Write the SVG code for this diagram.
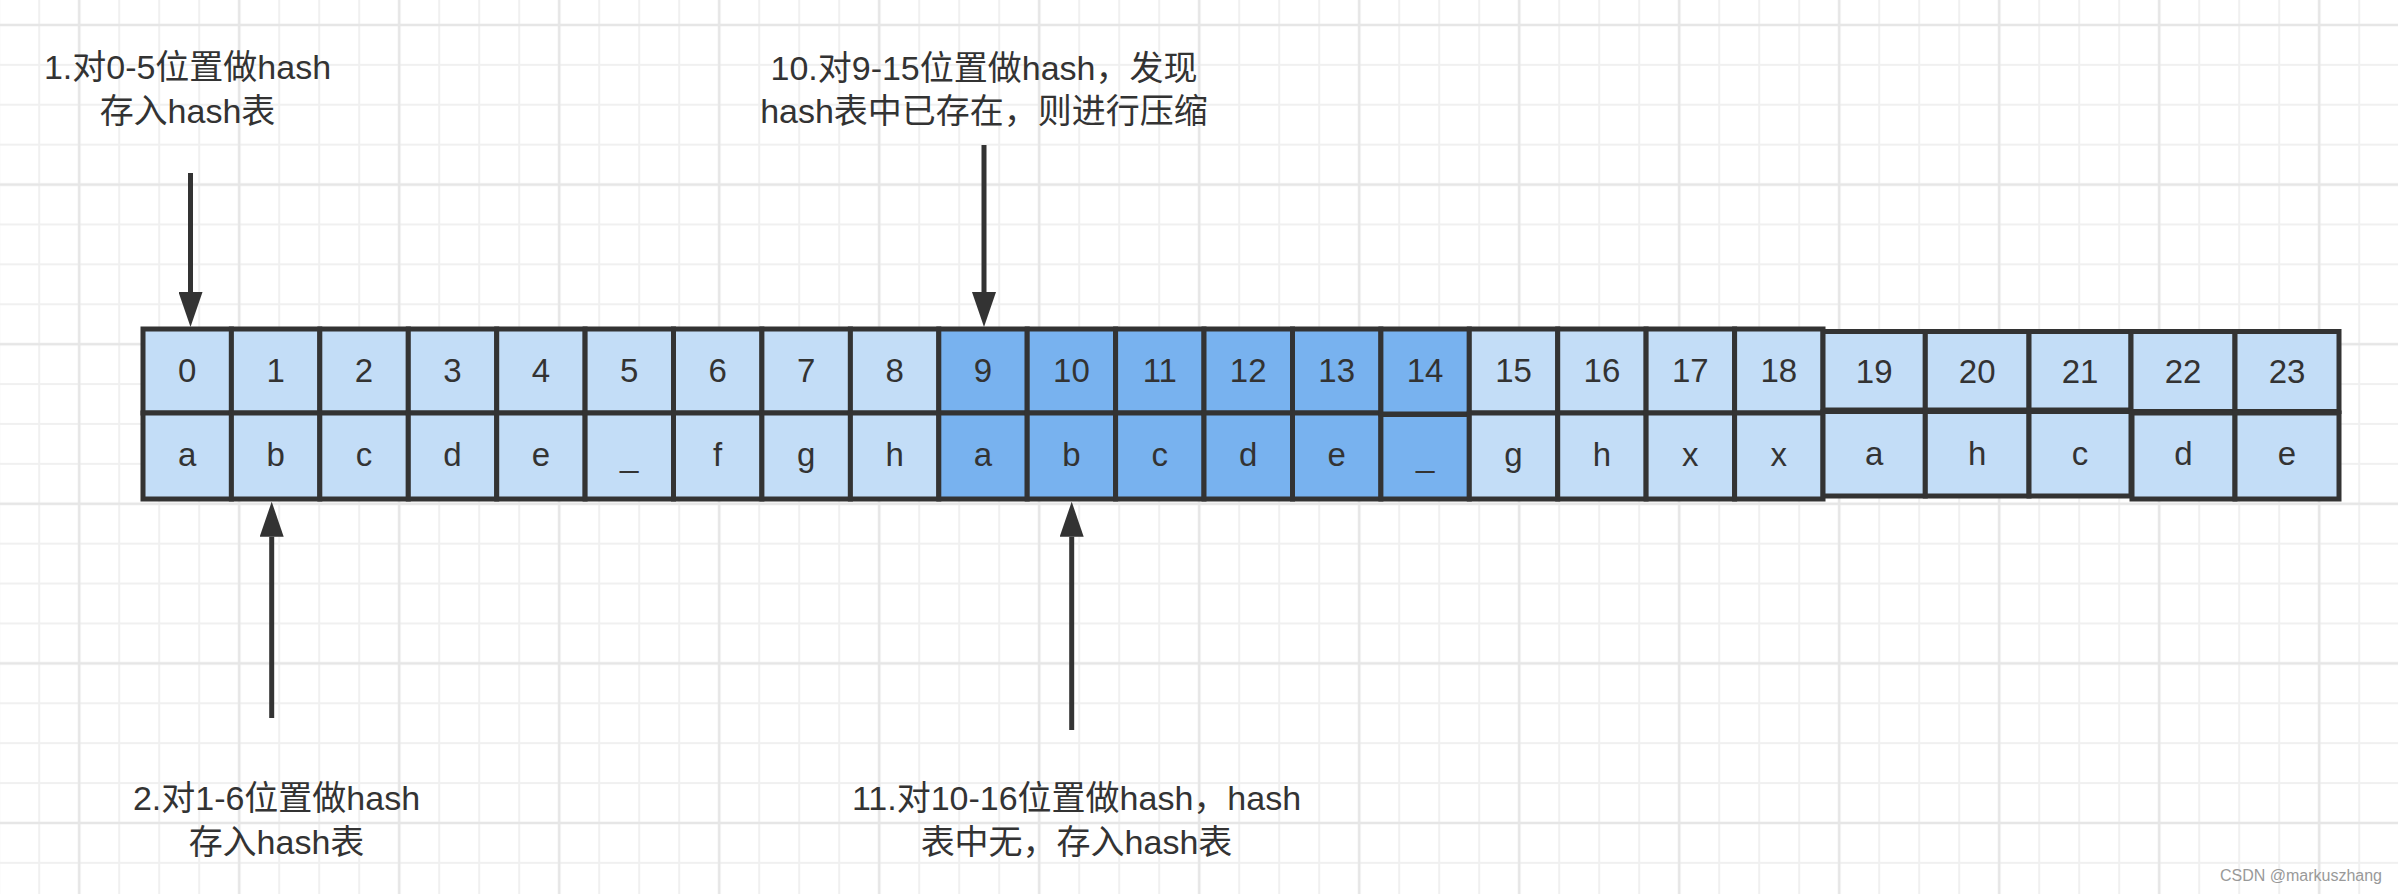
<svg xmlns="http://www.w3.org/2000/svg" width="2398" height="894" viewBox="0 0 2398 894">
<style>
.lt{fill:#c3ddf7;stroke:#333;stroke-width:5}
.dk{fill:#78b2ef;stroke:#333;stroke-width:5}
.ct{font-family:"Liberation Sans",Arial,sans-serif;font-size:33px;fill:#333;text-anchor:middle}
.lb{font-family:"Liberation Sans","Noto Sans CJK SC",sans-serif;font-size:34px;fill:#333;text-anchor:middle}
.arr{stroke:#333;stroke-width:5;fill:none;marker-end:url(#head)}
</style>
<defs>
<pattern id="minor" x="19.2" y="5" width="40" height="39.9" patternUnits="userSpaceOnUse">
<path d="M20,0V39.9M0,20H40" stroke="#f0f0f0" stroke-width="2" fill="none"/>
</pattern>
<pattern id="major" x="-0.8" y="-54.8" width="160" height="159.6" patternUnits="userSpaceOnUse">
<path d="M80,0V159.6M0,79.8H160" stroke="#e6e6e6" stroke-width="2.5" fill="none"/>
</pattern>
<marker id="head" viewBox="0 0 35 24" refX="0" refY="12" markerWidth="35" markerHeight="24" markerUnits="userSpaceOnUse" orient="auto">
<path d="M0,0L35,12L0,24Z" fill="#333"/>
</marker>
</defs>
<rect width="2398" height="894" fill="#fff"/>
<rect width="2398" height="894" fill="url(#minor)"/>
<rect width="2398" height="894" fill="url(#major)"/>

<g id="cell-0"><rect class="lt" x="143" y="329" width="88.4" height="84"/><rect class="lt" x="143" y="413" width="88.4" height="86"/><text class="ct" x="187.2" y="382">0</text><text class="ct" x="187.2" y="465.5">a</text></g>
<g id="cell-1"><rect class="lt" x="231.4" y="329" width="88.4" height="84"/><rect class="lt" x="231.4" y="413" width="88.4" height="86"/><text class="ct" x="275.6" y="382">1</text><text class="ct" x="275.6" y="465.5">b</text></g>
<g id="cell-2"><rect class="lt" x="319.8" y="329" width="88.5" height="84"/><rect class="lt" x="319.8" y="413" width="88.5" height="86"/><text class="ct" x="364" y="382">2</text><text class="ct" x="364" y="465.5">c</text></g>
<g id="cell-3"><rect class="lt" x="408.3" y="329" width="88.4" height="84"/><rect class="lt" x="408.3" y="413" width="88.4" height="86"/><text class="ct" x="452.5" y="382">3</text><text class="ct" x="452.5" y="465.5">d</text></g>
<g id="cell-4"><rect class="lt" x="496.7" y="329" width="88.4" height="84"/><rect class="lt" x="496.7" y="413" width="88.4" height="86"/><text class="ct" x="540.9" y="382">4</text><text class="ct" x="540.9" y="465.5">e</text></g>
<g id="cell-5"><rect class="lt" x="585.1" y="329" width="88.4" height="84"/><rect class="lt" x="585.1" y="413" width="88.4" height="86"/><text class="ct" x="629.3" y="382">5</text><text class="ct" x="629.3" y="465.5">_</text></g>
<g id="cell-6"><rect class="lt" x="673.5" y="329" width="88.4" height="84"/><rect class="lt" x="673.5" y="413" width="88.4" height="86"/><text class="ct" x="717.7" y="382">6</text><text class="ct" x="717.7" y="465.5">f</text></g>
<g id="cell-7"><rect class="lt" x="761.9" y="329" width="88.5" height="84"/><rect class="lt" x="761.9" y="413" width="88.5" height="86"/><text class="ct" x="806.1" y="382">7</text><text class="ct" x="806.1" y="465.5">g</text></g>
<g id="cell-8"><rect class="lt" x="850.4" y="329" width="88.4" height="84"/><rect class="lt" x="850.4" y="413" width="88.4" height="86"/><text class="ct" x="894.6" y="382">8</text><text class="ct" x="894.6" y="465.5">h</text></g>
<g id="cell-9"><rect class="dk" x="938.8" y="329" width="88.4" height="84"/><rect class="dk" x="938.8" y="413" width="88.4" height="86"/><text class="ct" x="983" y="382">9</text><text class="ct" x="983" y="465.5">a</text></g>
<g id="cell-10"><rect class="dk" x="1027.2" y="329" width="88.4" height="84"/><rect class="dk" x="1027.2" y="413" width="88.4" height="86"/><text class="ct" x="1071.4" y="382">10</text><text class="ct" x="1071.4" y="465.5">b</text></g>
<g id="cell-11"><rect class="dk" x="1115.6" y="329" width="88.4" height="84"/><rect class="dk" x="1115.6" y="413" width="88.4" height="86"/><text class="ct" x="1159.8" y="382">11</text><text class="ct" x="1159.8" y="465.5">c</text></g>
<g id="cell-12"><rect class="dk" x="1204" y="329" width="88.5" height="84"/><rect class="dk" x="1204" y="413" width="88.5" height="86"/><text class="ct" x="1248.2" y="382">12</text><text class="ct" x="1248.2" y="465.5">d</text></g>
<g id="cell-13"><rect class="dk" x="1292.5" y="329" width="88.4" height="84"/><rect class="dk" x="1292.5" y="413" width="88.4" height="86"/><text class="ct" x="1336.7" y="382">13</text><text class="ct" x="1336.7" y="465.5">e</text></g>
<g id="cell-14"><rect class="dk" x="1380.9" y="329" width="88.4" height="85"/><rect class="dk" x="1380.9" y="414.5" width="88.4" height="84.5"/><text class="ct" x="1425.1" y="382">14</text><text class="ct" x="1425.1" y="465.5">_</text></g>
<g id="cell-15"><rect class="lt" x="1469.3" y="329" width="88.4" height="84"/><rect class="lt" x="1469.3" y="413" width="88.4" height="86"/><text class="ct" x="1513.5" y="382">15</text><text class="ct" x="1513.5" y="465.5">g</text></g>
<g id="cell-16"><rect class="lt" x="1557.7" y="329" width="88.4" height="84"/><rect class="lt" x="1557.7" y="413" width="88.4" height="86"/><text class="ct" x="1601.9" y="382">16</text><text class="ct" x="1601.9" y="465.5">h</text></g>
<g id="cell-17"><rect class="lt" x="1646.1" y="329" width="88.5" height="84"/><rect class="lt" x="1646.1" y="413" width="88.5" height="86"/><text class="ct" x="1690.3" y="382">17</text><text class="ct" x="1690.3" y="465.5">x</text></g>
<g id="cell-18"><rect class="lt" x="1734.6" y="329" width="88.4" height="84"/><rect class="lt" x="1734.6" y="413" width="88.4" height="86"/><text class="ct" x="1778.8" y="382">18</text><text class="ct" x="1778.8" y="465.5">x</text></g>
<g id="cell-19"><rect class="lt" x="1823" y="331.5" width="102.3" height="78.5"/><rect class="lt" x="1823" y="411.5" width="102.3" height="84.5"/><text class="ct" x="1874.2" y="382.5">19</text><text class="ct" x="1874.2" y="465">a</text></g>
<g id="cell-20"><rect class="lt" x="1925.3" y="331.5" width="103.7" height="78.5"/><rect class="lt" x="1925.3" y="411.5" width="103.7" height="84.5"/><text class="ct" x="1977.2" y="382.5">20</text><text class="ct" x="1977.2" y="465">h</text></g>
<g id="cell-21"><rect class="lt" x="2029" y="331.5" width="102" height="78.5"/><rect class="lt" x="2029" y="411.5" width="102" height="84.5"/><text class="ct" x="2080" y="382.5">21</text><text class="ct" x="2080" y="465">c</text></g>
<g id="cell-22"><rect class="lt" x="2131" y="331.5" width="104" height="80"/><rect class="lt" x="2132" y="413" width="103" height="86"/><text class="ct" x="2183" y="382.5">22</text><text class="ct" x="2183.5" y="465">d</text></g>
<g id="cell-23"><rect class="lt" x="2235" y="331.5" width="104" height="80"/><rect class="lt" x="2235" y="413" width="104" height="86"/><text class="ct" x="2287" y="382.5">23</text><text class="ct" x="2287" y="465">e</text></g>

<g id="label-1"><text class="lb" x="187.5" y="79">1.对0-5位置做hash</text><text class="lb" x="187.5" y="123">存入hash表</text></g>
<g id="label-10"><text class="lb" x="984" y="80">10.对9-15位置做hash，发现</text><text class="lb" x="984" y="123">hash表中已存在，则进行压缩</text></g>
<g id="label-2"><text class="lb" x="276.5" y="810">2.对1-6位置做hash</text><text class="lb" x="276.5" y="854">存入hash表</text></g>
<g id="label-11"><text class="lb" x="1076.5" y="810">11.对10-16位置做hash，hash</text><text class="lb" x="1076.5" y="854">表中无，存入hash表</text></g>

<g id="connectors">
<line class="arr" x1="190.5" y1="173" x2="190.5" y2="292"/>
<line class="arr" x1="984" y1="145" x2="984" y2="292"/>
<line class="arr" x1="271.7" y1="718" x2="271.7" y2="536.7"/>
<line class="arr" x1="1071.7" y1="730" x2="1071.7" y2="536.7"/>
</g>

<text x="2382" y="880.5" font-family="Liberation Sans,Arial,sans-serif" font-size="16" fill="#999" text-anchor="end">CSDN @markuszhang</text>
</svg>
